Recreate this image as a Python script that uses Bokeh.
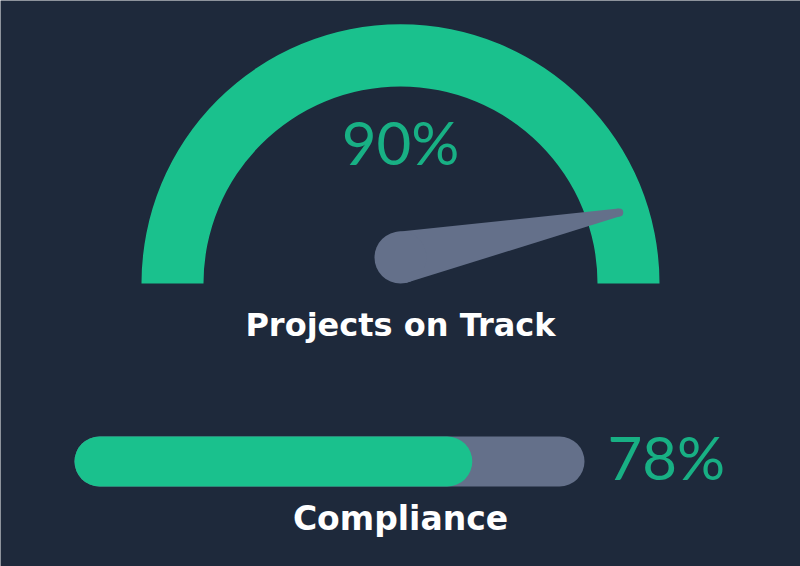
import math
from bokeh.plotting import figure
from bokeh.models import Range1d
from bokeh.core.properties import value
from bokeh.embed import file_html
from bokeh.resources import INLINE

# ---- data ----
gauge_labels = ["Projects on Track"]
gauge_values = [90]          # percent
bar_labels = ["Compliance"]
bar_values = [78]            # percent

# ---- style ----
BG = "#1e293b"
GREEN = "#1ac18d"
GREEN_TXT = "#18b084"
GRAY = "#64708a"
W, H = 800, 566
NUM_FONT = value("Lato")
TITLE_FONT = value("DejaVu Sans")

def Y(sy):  # screen y -> data y
    return H - sy

p = figure(width=W, height=H, output_backend="svg", toolbar_location=None,
           x_range=Range1d(0, W), y_range=Range1d(0, H),
           min_border=0, background_fill_color=BG, border_fill_color=BG)
p.axis.visible = False
p.grid.visible = False
p.outline_line_color = None

# gauge
cx, cy = 400, Y(283)
r_in, r_out = 197, 259
p.annular_wedge(x=[cx], y=[cy], inner_radius=r_in, outer_radius=r_out,
                start_angle=0, end_angle=math.pi, fill_color=GREEN, line_color=None)

v = gauge_values[0] / 100.0
ang = math.pi * (1 - v)
L = 230
tx, ty = cx + L * math.cos(ang), cy + L * math.sin(ang)
px_, py_ = 400, Y(257)
rb, rt = 26, 4
dx, dy = tx - px_, ty - py_
d = math.hypot(dx, dy)
nx, ny = -dy / d, dx / d
p.patch(x=[px_ + rb * nx, tx + rt * nx, tx - rt * nx, px_ - rb * nx],
        y=[py_ + rb * ny, ty + rt * ny, ty - rt * ny, py_ - rb * ny],
        fill_color=GRAY, line_color=None)
p.circle(x=[px_], y=[py_], radius=rb, fill_color=GRAY, line_color=None)
p.circle(x=[tx], y=[ty], radius=rt, fill_color=GRAY, line_color=None)

p.text(x=[400], y=[Y(141)], text=[f"{gauge_values[0]}%"], text_align="center",
       text_baseline="alphabetic", text_font=NUM_FONT, text_font_size="60px",
       text_color=GREEN_TXT)
p.text(x=[400], y=[Y(324)], text=gauge_labels, text_align="center",
       text_baseline="alphabetic", text_font=TITLE_FONT, text_font_style="bold",
       text_font_size="32px", text_color="white")

# progress bar
bl, bw = 74, 510
by = Y(461)
p.hbar(y=[by], left=[bl], right=[bl + bw], height=50, fill_color=GRAY,
       line_color=None, border_radius=25)
p.hbar(y=[by], left=[bl], right=[bl + bw * bar_values[0] / 100.0], height=50,
       fill_color=GREEN, line_color=None, border_radius=25)
p.text(x=[607], y=[Y(456)], text=[f"{bar_values[0]}%"], text_align="left",
       text_baseline="alphabetic", text_font=NUM_FONT, text_font_size="60px",
       text_color=GREEN_TXT)
p.text(x=[400], y=[Y(518)], text=bar_labels, text_align="center",
       text_baseline="alphabetic", text_font=TITLE_FONT, text_font_style="bold",
       text_font_size="33px", text_color="white")

html = file_html(p, INLINE)
html = html.replace("<body>", f'<body style="background-color:{BG};">', 1)
open("out.html", "w").write(html)
